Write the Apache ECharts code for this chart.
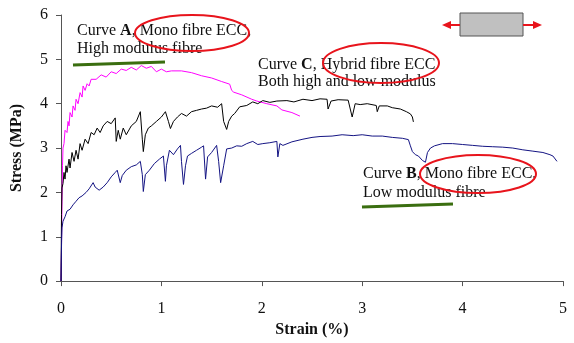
<!DOCTYPE html>
<html>
<head>
<meta charset="utf-8">
<script src="https://cdn.jsdelivr.net/npm/echarts@6/dist/echarts.min.js"></script>
<style>
  html, body { margin: 0; padding: 0; background: #fff; }
  #chart { width: 574px; height: 343px; }
</style>
</head>
<body>
<div id="chart"></div>
<script>
// strain (%) / stress (MPa) pairs
const curveA = [
  [0, 0], [0.005, 0.8], [0.01, 1.8], [0.015, 2.6], [0.02, 3.0], [0.03, 3.1], [0.04, 3.4], [0.06, 3.35],
  [0.07, 3.6], [0.08, 3.5], [0.09, 3.8], [0.11, 3.7], [0.12, 3.95], [0.14, 3.85], [0.15, 4.1], [0.17, 4.0],
  [0.19, 4.25], [0.21, 4.15], [0.22, 4.4], [0.24, 4.3], [0.26, 4.45], [0.28, 4.4], [0.3, 4.55], [0.35, 4.55],
  [0.4, 4.65], [0.45, 4.6], [0.5, 4.72], [0.55, 4.68], [0.6, 4.78], [0.65, 4.75], [0.7, 4.82], [0.75, 4.76],
  [0.8, 4.86], [0.85, 4.8], [0.9, 4.84], [0.95, 4.72], [1.0, 4.78], [1.05, 4.72], [1.1, 4.74], [1.2, 4.74],
  [1.3, 4.7], [1.4, 4.63], [1.5, 4.58], [1.6, 4.5], [1.68, 4.44], [1.7, 4.3], [1.72, 4.26], [1.8, 4.2],
  [1.9, 4.1], [1.95, 4.06], [2.05, 4.0], [2.15, 3.95], [2.2, 3.86], [2.3, 3.8], [2.38, 3.72]
]
const curveC = [
  [0, 0], [0.005, 1.5], [0.01, 2.1], [0.02, 2.2], [0.03, 2.45], [0.04, 2.3], [0.05, 2.6], [0.06, 2.45],
  [0.08, 2.75], [0.09, 2.55], [0.11, 2.9], [0.13, 2.7], [0.15, 2.95], [0.17, 2.75], [0.19, 3.1], [0.21, 2.95],
  [0.24, 3.2], [0.27, 3.1], [0.3, 3.35], [0.33, 3.3], [0.36, 3.45], [0.39, 3.35], [0.42, 3.5], [0.46, 3.6],
  [0.5, 3.55], [0.54, 3.68], [0.55, 3.15], [0.57, 3.4], [0.59, 3.2], [0.62, 3.45], [0.65, 3.3], [0.7, 3.5],
  [0.75, 3.6], [0.79, 3.82], [0.81, 3.2], [0.82, 2.92], [0.84, 3.3], [0.87, 3.45], [0.9, 3.5], [0.95, 3.6],
  [1.0, 3.7], [1.04, 3.82], [1.07, 3.6], [1.09, 3.44], [1.12, 3.6], [1.16, 3.7], [1.2, 3.78], [1.25, 3.72],
  [1.3, 3.82], [1.35, 3.85], [1.4, 3.88], [1.45, 3.9], [1.5, 3.95], [1.56, 3.92], [1.6, 4.0], [1.62, 3.6],
  [1.65, 3.42], [1.67, 3.6], [1.7, 3.72], [1.73, 3.78], [1.78, 3.93], [1.85, 3.96], [1.91, 4.04], [1.96, 4.0],
  [2.01, 4.07], [2.08, 4.03], [2.15, 4.06], [2.25, 4.07], [2.32, 4.04], [2.41, 4.1], [2.5, 4.07], [2.58, 4.11],
  [2.65, 4.1], [2.66, 3.88], [2.69, 4.06], [2.76, 4.09], [2.86, 4.08], [2.9, 3.7], [2.93, 4.0], [2.98, 3.98],
  [3.05, 4.0], [3.14, 3.96], [3.15, 3.82], [3.17, 3.95], [3.25, 3.95], [3.3, 3.91], [3.38, 3.88], [3.44, 3.82],
  [3.48, 3.77], [3.5, 3.7], [3.51, 3.59]
]
const curveB = [
  [0, 0], [0.003, 0.5], [0.006, 0.9], [0.01, 1.2], [0.02, 1.35], [0.04, 1.45], [0.06, 1.58], [0.09, 1.62],
  [0.12, 1.72], [0.15, 1.8], [0.18, 1.88], [0.21, 1.92], [0.25, 2.0], [0.28, 2.08], [0.32, 2.22], [0.34, 2.12],
  [0.38, 2.05], [0.42, 2.12], [0.46, 2.22], [0.5, 2.35], [0.54, 2.45], [0.56, 2.5], [0.59, 2.22], [0.61, 2.38],
  [0.65, 2.5], [0.7, 2.58], [0.75, 2.62], [0.79, 2.7], [0.81, 2.4], [0.82, 2.02], [0.84, 2.4], [0.88, 2.5],
  [0.93, 2.65], [0.98, 2.75], [1.02, 2.82], [1.04, 2.25], [1.05, 2.6], [1.08, 2.95], [1.12, 2.85], [1.16, 2.98],
  [1.19, 3.06], [1.2, 2.7], [1.22, 2.18], [1.24, 2.6], [1.26, 2.82], [1.3, 2.88], [1.35, 2.95], [1.4, 3.02],
  [1.42, 3.05], [1.44, 2.3], [1.46, 2.8], [1.5, 2.9], [1.55, 3.06], [1.57, 2.7], [1.59, 2.22], [1.62, 2.6],
  [1.65, 2.98], [1.7, 3.0], [1.75, 3.05], [1.8, 3.04], [1.85, 3.1], [1.91, 3.15], [1.96, 3.08], [2.01, 3.1],
  [2.08, 3.12], [2.15, 3.15], [2.16, 2.8], [2.18, 3.1], [2.21, 3.06], [2.3, 3.14], [2.41, 3.2], [2.5, 3.24],
  [2.58, 3.26], [2.7, 3.27], [2.8, 3.3], [2.91, 3.28], [3.0, 3.3], [3.1, 3.27], [3.2, 3.27], [3.3, 3.24],
  [3.4, 3.22], [3.46, 3.19], [3.48, 3.05], [3.5, 2.92], [3.53, 2.85], [3.56, 2.82], [3.6, 2.72], [3.63, 2.68],
  [3.65, 2.9], [3.68, 3.0], [3.72, 3.05], [3.8, 3.1], [3.9, 3.1], [4.0, 3.08], [4.1, 3.06], [4.2, 3.04],
  [4.3, 3.03], [4.4, 3.02], [4.5, 3.0], [4.6, 2.96], [4.7, 2.93], [4.8, 2.9], [4.87, 2.85], [4.9, 2.82],
  [4.94, 2.7]
]

const serif = '"Liberation Serif", "DejaVu Serif", serif'

// annotation text helper
function label(x, y, text) {
  return {
    type: 'text', x: x, y: y, z: 10,
    style: {
      text: text,
      font: '16px ' + serif,
      fill: '#111',
      verticalAlign: 'middle',
      rich: {
        n: { font: '16px ' + serif, fill: '#111' },
        b: { font: 'bold 16px ' + serif, fill: '#111' }
      }
    }
  }
}
function ring(cx, cy, rx, ry) {
  return {
    type: 'ellipse', z: 20,
    shape: { cx: cx, cy: cy, rx: rx, ry: ry },
    style: { fill: 'none', stroke: '#e8141c', lineWidth: 2 }
  }
}
function underline(x1, y1, x2, y2) {
  return {
    type: 'line', z: 20,
    shape: { x1: x1, y1: y1, x2: x2, y2: y2 },
    style: { stroke: '#3a6e10', lineWidth: 3 }
  }
}

let mycharts = echarts.init(document.getElementById('chart'))
mycharts.setOption({
  animation: false,
  grid: { left: 61, right: 11, top: 15, bottom: 59 },
  xAxis: {
    type: 'value', min: 0, max: 5, interval: 1,
    name: 'Strain (%)', nameLocation: 'middle', nameGap: 40,
    nameTextStyle: { fontFamily: serif, fontWeight: 'bold', fontSize: 16, color: '#111' },
    axisLine: { lineStyle: { color: '#555', width: 1 } },
    axisTick: { show: true, length: 5, lineStyle: { color: '#555' } },
    axisLabel: { fontFamily: serif, fontSize: 16, color: '#111', margin: 20 },
    splitLine: { show: false }
  },
  yAxis: {
    type: 'value', min: 0, max: 6, interval: 1,
    name: 'Stress (MPa)', nameLocation: 'middle', nameGap: 36,
    nameTextStyle: { fontFamily: serif, fontWeight: 'bold', fontSize: 16, color: '#111' },
    axisLine: { show: true, lineStyle: { color: '#555', width: 1 } },
    axisTick: { show: true, length: 5, lineStyle: { color: '#555' } },
    axisLabel: { fontFamily: serif, fontSize: 16, color: '#111', margin: 13 },
    splitLine: { show: false }
  },
  series: [
    { name: 'A', type: 'line', data: curveA, showSymbol: false, lineStyle: { color: '#ff00ff', width: 1 } },
    { name: 'C', type: 'line', data: curveC, showSymbol: false, lineStyle: { color: '#000000', width: 1 } },
    { name: 'B', type: 'line', data: curveB, showSymbol: false, lineStyle: { color: '#141483', width: 1 } }
  ],
  graphic: [
    label(77, 31, '{n|Curve }{b|A}{n|, Mono fibre ECC,}'),
    label(77, 49, 'High modulus fibre'),
    label(258, 65, '{n|Curve }{b|C}{n|, Hybrid fibre ECC}'),
    label(258, 82, 'Both high and low modulus'),
    label(363, 174, '{n|Curve }{b|B}{n|, Mono fibre ECC,}'),
    label(363, 193, 'Low modulus fibre'),
    ring(192, 33, 57, 18),
    ring(381, 63, 58, 20),
    ring(478, 174, 58, 19),
    underline(73, 65, 165, 62),
    underline(362, 207, 453, 204),
    // specimen sketch with tension arrows
    {
      type: 'rect', z: 10,
      shape: { x: 460, y: 13, width: 63, height: 23 },
      style: { fill: '#c0c0c0', stroke: '#555', lineWidth: 1 }
    },
    { type: 'line', z: 10, shape: { x1: 448, y1: 25, x2: 460, y2: 25 }, style: { stroke: '#e8141c', lineWidth: 2 } },
    { type: 'line', z: 10, shape: { x1: 523, y1: 25, x2: 536, y2: 25 }, style: { stroke: '#e8141c', lineWidth: 2 } },
    { type: 'polygon', z: 10, shape: { points: [[442, 25], [451, 21], [451, 29]] }, style: { fill: '#e8141c' } },
    { type: 'polygon', z: 10, shape: { points: [[542, 25], [533, 21], [533, 29]] }, style: { fill: '#e8141c' } }
  ]
})
</script>
</body>
</html>
